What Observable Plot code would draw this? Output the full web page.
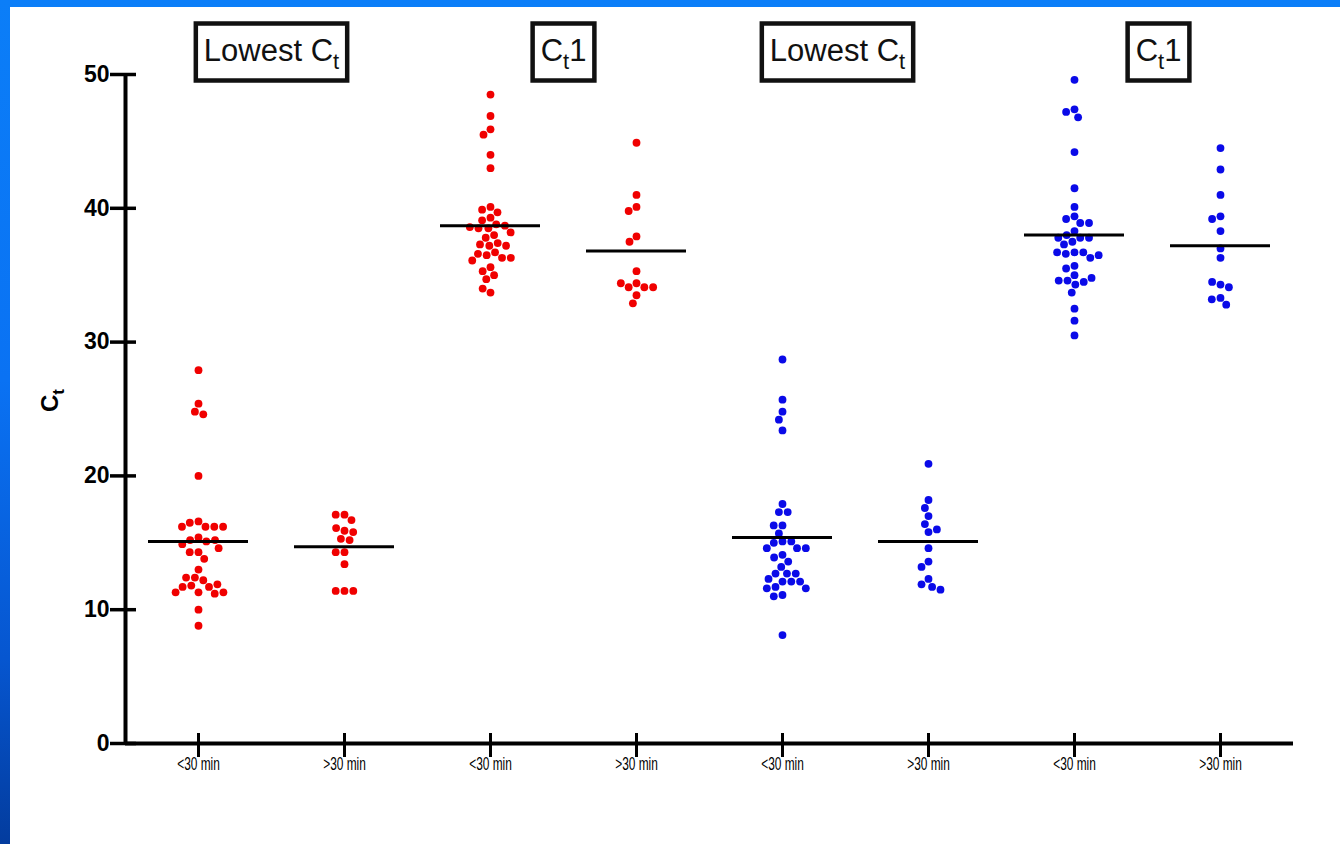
<!DOCTYPE html>
<html>
<head>
<meta charset="utf-8">
<script src="https://cdn.jsdelivr.net/npm/d3@7"></script>
<script src="https://cdn.jsdelivr.net/npm/@observablehq/plot@0.6"></script>
<style>
  html, body { margin: 0; padding: 0; }
  body {
    width: 1340px; height: 844px; overflow: hidden; position: relative;
    background: linear-gradient(180deg, #0b7ef8 0%, #0a72f3 45%, #0656d0 78%, #033c9e 100%);
  }
  #panel { position: absolute; left: 10px; top: 7px; width: 1330px; height: 837px; background: #ffffff; }
</style>
</head>
<body>
<div id="panel"></div>
<script>
// ---- categories ----
const groups = ["lowA_lt", "lowA_gt", "ct1A_lt", "ct1A_gt", "lowB_lt", "lowB_gt", "ct1B_lt", "ct1B_gt"];
const tickLabels = ["<30 min", ">30 min", "<30 min", ">30 min", "<30 min", ">30 min", "<30 min", ">30 min"];
const groupColors = ["red", "red", "red", "red", "blue", "blue", "blue", "blue"];
const yTicks = [0, 10, 20, 30, 40, 50];

// ---- titles (each spans the pair starting at the anchor group) ----
const titleLabels = ["Lowest Ct", "Ct1", "Lowest Ct", "Ct1"];
const titleAnchors = ["lowA_lt", "ct1A_lt", "lowB_lt", "ct1B_lt"];

// ---- series values (Ct) ----
const lowestRedUnder30 = [27.9, 25.4, 24.8, 24.6, 20.0, 16.6, 16.5, 16.2, 16.2, 16.2, 16.2, 15.4, 15.2, 15.1, 15.2, 14.9,
  14.3, 14.3, 14.6, 13.8, 13.0, 12.4, 12.2, 12.4, 11.8, 11.7, 11.7, 11.9, 11.3, 11.2, 11.3, 11.3, 10.0, 8.8];
const lowestRedOver30 = [17.1, 17.1, 16.7, 15.9, 16.1, 15.8, 15.3, 15.2, 14.3, 14.3, 13.4, 11.4, 11.4, 11.4];
const ct1RedUnder30 = [48.5, 46.9, 45.9, 45.5, 44.0, 43.0, 40.1, 39.9, 39.7, 39.3, 39.1, 38.8, 38.7, 38.5, 38.5, 38.6,
  38.2, 38.0, 37.8, 37.4, 37.3, 37.2, 37.2, 36.7, 36.5, 36.6, 36.3, 36.3, 36.1, 35.6, 35.3, 35.0, 34.7, 33.7, 34.0];
const ct1RedOver30 = [44.9, 41.0, 40.1, 39.8, 37.9, 37.5, 35.3, 34.4, 34.1, 34.1, 34.1, 34.4, 33.5, 32.9];
const lowestBlueUnder30 = [28.7, 25.7, 24.8, 24.2, 23.4, 17.9, 17.3, 17.3, 16.3, 16.3, 15.7, 15.1, 15.0, 15.1,
  14.6, 14.6, 14.6, 14.1, 13.9, 13.6, 13.2, 12.7, 12.7, 12.7, 12.3, 12.1, 12.1, 12.1, 11.7, 11.6, 11.6, 11.1, 11.0, 8.1];
const lowestBlueOver30 = [20.9, 18.2, 17.6, 17.0, 16.4, 15.8, 16.0, 14.6, 13.6, 13.2, 12.3, 11.9, 11.7, 11.5];
const ct1BlueUnder30 = [49.6, 47.4, 47.2, 46.8, 44.2, 41.5, 40.1, 39.4, 39.2, 38.9, 38.9, 38.3, 38.0, 37.8, 37.8, 37.8,
  37.5, 37.3, 36.7, 36.6, 36.7, 36.7, 36.3, 36.5, 35.7, 35.5, 35.0, 34.6, 34.3, 34.5, 34.6, 34.8, 33.7, 32.5, 31.6, 30.5];
const ct1BlueOver30 = [44.5, 42.9, 41.0, 39.4, 39.2, 38.3, 37.0, 36.3, 34.3, 34.5, 34.1, 33.3, 33.2, 32.8];

// horizontal line values (group centre lines)
const centerLines = [15.1, 14.7, 38.7, 36.8, 15.4, 15.1, 38.0, 37.2];

// ---- tables built from the arrays ----
const seriesList = [lowestRedUnder30, lowestRedOver30, ct1RedUnder30, ct1RedOver30,
  lowestBlueUnder30, lowestBlueOver30, ct1BlueUnder30, ct1BlueOver30];
const palette = { red: "#f00000", blue: "#0a0ae8" };
const rows = [];
seriesList.forEach((vals, i) => vals.forEach(v => rows.push({ group: groups[i], ct: v, color: palette[groupColors[i]] })));
const lines = groups.map((g, i) => ({ group: g, value: centerLines[i] }));
const titles = titleLabels.map((t, i) => ({ group: titleAnchors[i], label: t }));

// small horizontal nudges of the title boxes (style)
const titleNudge = [0, 0, -18, 11];

const chart = Plot.plot({
  width: 1330,
  height: 837,
  marginLeft: 112,
  marginRight: 45,
  marginTop: 67,
  marginBottom: 101,
  style: { fontFamily: "'Liberation Sans', Arial, sans-serif", background: "transparent", color: "#000", overflow: "visible" },
  fx: { domain: groups, padding: 0 },
  x: { domain: [0, 1], axis: null },
  y: { domain: [0, 50] },
  color: { type: "identity" },
  marks: [
    Plot.ruleY([0], { stroke: "#000", strokeWidth: 4 }),
    Plot.ruleX([groups[0]], { fx: d => d, x: () => 0, stroke: "#000", strokeWidth: 4 }),
    // y ticks (crossing the axis) and y tick labels
    Plot.axisY({ ticks: yTicks, tickSize: 26, dx: 11, strokeWidth: 3.5, stroke: "#000", fill: "none", label: null }),
    Plot.axisY({ ticks: yTicks, tickSize: 0, tickPadding: 16, fontSize: 23, fontWeight: "bold", fill: "#000", label: null }),
    // category ticks (crossing the baseline) and labels
    Plot.axisFx({ anchor: "bottom", tickSize: 24, dy: -10, strokeWidth: 3, stroke: "#000", fill: "none", label: null }),
    Plot.axisFx({ anchor: "bottom", tickSize: 0, tickPadding: 14, fontSize: 18, fill: "#000", label: null,
      tickFormat: d => tickLabels[groups.indexOf(d)] }),
    Plot.dot(rows, Plot.dodgeX("middle", { fx: "group", y: "ct", r: 3.9, padding: 2.2, fill: "color" })),
    Plot.ruleY(lines, { fx: "group", y: "value", insetLeft: 23, insetRight: 23, stroke: "#000", strokeWidth: 3 }),
    ...titles.map((t, i) => Plot.text([t], { fx: "group", text: "label", frameAnchor: "top-right", textAnchor: "middle",
      lineAnchor: "bottom", dx: titleNudge[i], dy: -14, fontSize: 31, fill: "#111" })),
    Plot.text(["Ct"], { fx: () => groups[0], text: d => d, frameAnchor: "left", rotate: -90,
      dx: -75, dy: 3, fontSize: 24, fontWeight: "bold", fill: "#000" })
  ]
});

document.getElementById("panel").appendChild(chart);

const svgNS = "http://www.w3.org/2000/svg";

// make sure the tick label sizes hold, and give the category labels a condensed look
d3.select(chart).selectAll("text").each(function () {
  const t = this.textContent;
  if (/^(0|10|20|30|40|50)$/.test(t)) {
    this.style.fontSize = "23px";
    this.style.fontWeight = "bold";
    return;
  }
  if (!/^[<>]30 min$/.test(t)) return;
  this.style.fontSize = "18px";
  const bb = this.getBBox();
  const cx = bb.x + bb.width / 2;
  const tr = this.getAttribute("transform") || "";
  this.setAttribute("transform", `${tr} translate(${cx},0) scale(0.66,1) translate(${-cx},0)`);
});

// subscript "t" in the C_t labels and frame the titles
d3.select(chart).selectAll("text").each(function () {
  const el = this;
  const txt = el.textContent;
  if (!/Ct/.test(txt) || el.querySelector("tspan")) return;
  const fs = parseFloat(getComputedStyle(el).fontSize) || 20;
  const idx = txt.indexOf("Ct");
  const before = txt.slice(0, idx + 1);
  const after = txt.slice(idx + 2);
  el.textContent = "";
  el.appendChild(document.createTextNode(before));
  const sub = document.createElementNS(svgNS, "tspan");
  sub.setAttribute("font-size", Math.round(fs * 0.7));
  sub.setAttribute("dy", Math.round(fs * 0.27));
  sub.textContent = "t";
  el.appendChild(sub);
  if (after) {
    const rest = document.createElementNS(svgNS, "tspan");
    rest.setAttribute("dy", -Math.round(fs * 0.27));
    rest.textContent = after;
    el.appendChild(rest);
  }
  if (fs > 28) {
    const bb = el.getBBox();
    const rect = document.createElementNS(svgNS, "rect");
    rect.setAttribute("x", bb.x - 8);
    rect.setAttribute("y", bb.y - 9);
    rect.setAttribute("width", bb.width + 16);
    rect.setAttribute("height", 57);
    rect.setAttribute("fill", "none");
    rect.setAttribute("stroke", "#111");
    rect.setAttribute("stroke-width", 4.5);
    const tr = el.getAttribute("transform");
    if (tr) rect.setAttribute("transform", tr);
    el.parentNode.insertBefore(rect, el);
  }
});
</script>
</body>
</html>
